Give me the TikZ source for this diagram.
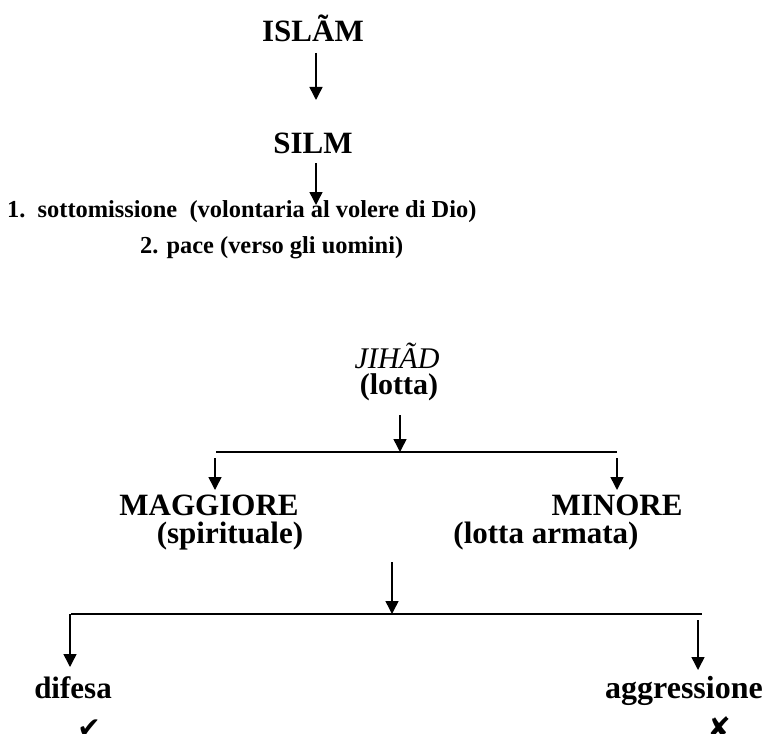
\documentclass[tikz,border=0pt]{standalone}
\usepackage{fontspec}
\setmainfont{Liberation Serif}
\newfontfamily\symfont{DejaVu Sans}
\usetikzlibrary{arrows.meta}

\begin{document}
\begin{tikzpicture}[x=1pt, y=-1pt,
        title/.style={font=\bfseries\fontsize{31}{36}\selectfont, inner sep=0pt, anchor=base},
        item/.style={font=\bfseries\fontsize{24.4}{30}\selectfont, inner sep=0pt, anchor=base west},
        sub/.style={font=\bfseries\fontsize{30}{34}\selectfont, inner sep=0pt, anchor=base},
        sym/.style={font=\symfont\fontsize{28}{28}\selectfont, inner sep=0pt, anchor=base},
        arr/.style={line width=1.5pt, -{Triangle[width=13pt, length=13pt]}},
        bar/.style={line width=1.5pt}]
    \useasboundingbox (0,0) rectangle (770,733);

    % islam -> silm
    \node[title] (islam) at (313,42) {ISLÃM};
    \node[title] (silm) at (313,153) {SILM};
    \node[item] (sott) at (7,217) {1.\ \ sottomissione\ \ (volontaria al volere di Dio)};
    \node[item] (pace) at (140,253) {2. pace (verso gli uomini)};
    \coordinate (tip1) at (316,205);

    \draw[arr] ([xshift=3pt, yshift=-11pt]islam.base) -- ([xshift=3pt, yshift=53pt]silm.base);
    \draw[arr] ([xshift=3pt, yshift=-10pt]silm.base) -- (tip1);

    % jihad
    \node[sub, font=\itshape\fontsize{30}{34}\selectfont] (jihad) at (397,368) {JIHÃD};
    \node[sub] (lotta) at (399,394) {(lotta)};
    \coordinate (fork1) at (400,452);
    \coordinate (f1l) at (216,452);
    \coordinate (f1r) at (617,452);

    \node[title] (magg) at (209,515) {MAGGIORE};
    \node[title] (minore) at (617,515) {MINORE};
    \node[title] (spir) at (230,543) {(spirituale)};
    \node[title] (armata) at (546,543) {(lotta armata)};

    \draw[arr] ([xshift=1pt, yshift=-21pt]lotta.base) -- (fork1);
    \draw[bar] (f1l) -- (f1r);
    \draw[arr] ([xshift=-1pt, yshift=-6pt]f1l) -- ([xshift=6pt, yshift=25pt]magg.base);
    \draw[arr] ([yshift=-6pt]f1r) -- ([yshift=25pt]minore.base);

    % difesa / aggressione
    \coordinate (fork2) at (392,614);
    \coordinate (f2l) at (71,614);
    \coordinate (f2r) at (702,614);

    \node[title] (difesa) at (73,698) {difesa};
    \node[title, font=\bfseries\fontsize{32}{36}\selectfont] (aggr) at (684,698) {aggressione};
    \node[sym] (ok) at (89,737) {✔};
    \node[sym] (no) at (719,737) {✘};

    \draw[arr] ([yshift=52pt]fork2) -- (fork2);
    \draw[bar] (f2l) -- (f2r);
    \draw[arr] ([xshift=-1pt]f2l) -- ([xshift=-3pt, yshift=31pt]difesa.base);
    \draw[arr] ([xshift=-4pt, yshift=-6pt]f2r) -- ([xshift=14pt, yshift=28pt]aggr.base);
\end{tikzpicture}
\end{document}
